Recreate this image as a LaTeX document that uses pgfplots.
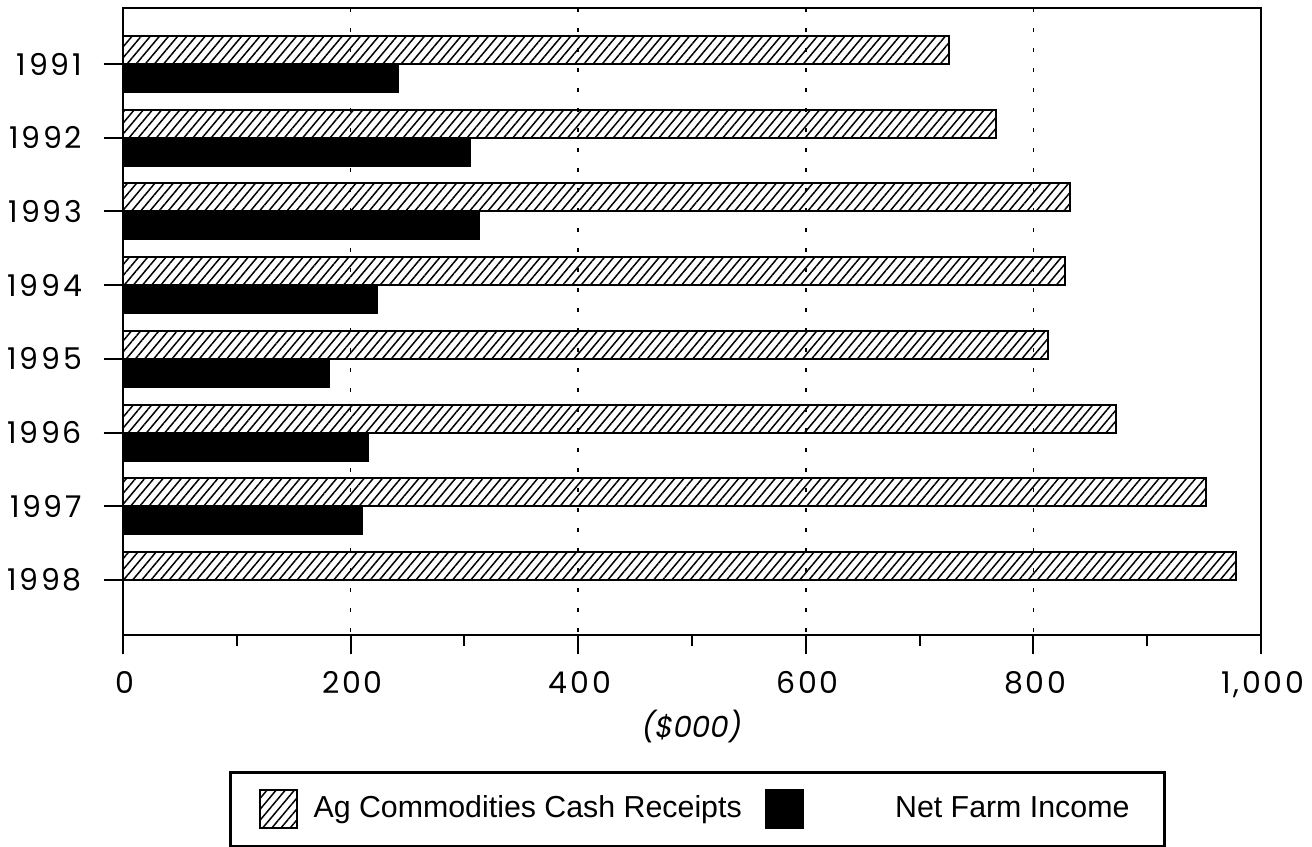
\documentclass[border=0pt]{standalone}
\usepackage{pgfplots}
\pgfplotsset{compat=1.18}
\usetikzlibrary{patterns.meta}
\usepackage{fontspec}
\setmainfont{Liberation Sans}
\newfontfamily\tickfont[LetterSpace=9]{Poppins}
\newfontfamily\labfont{Poppins}
\pgfplotsset{sqlegend/.style={legend image code/.code={\draw[##1, line width=0.6pt] (0pt,-5.6pt) rectangle (11.2pt,5.6pt);}}}
\begin{document}
\begin{tikzpicture}
\begin{axis}[
  name=ax,
  scale only axis,
  width=341.4pt, height=188.1pt,
  xmin=0, xmax=1000,
  ymin=1990.24, ymax=1998.746,
  y dir=reverse,
  axis line style={line width=0.8pt},
  xtick={0,200,400,600,800,1000},
  xticklabels={0,200,400,600,800,{1,000}},
  minor xtick={100,300,500,700,900},
  ytick={1991,1992,1993,1994,1995,1996,1997,1998},
  yticklabels={1991,1992,1993,1994,1995,1996,1997,1998},
  xtick pos=bottom, ytick pos=left,
  tick align=outside,
  major tick length=5.8pt, minor tick length=3.3pt,
  tick style={black, line width=0.6pt},
  xmajorgrids,
  major grid style={black, line width=0.45pt, dash pattern=on 1.2pt off 4.8pt},
  ticklabel style={font=\tickfont\fontsize{9}{10}\selectfont},
  xticklabel style={yshift=-1.5pt, xshift=0.5pt},
  yticklabel style={xshift=-3pt},
  xlabel={\textit{(\$000)}},
  xlabel style={font=\labfont\fontsize{8.8}{10}\selectfont, at={(axis description cs:0.5,0)}, anchor=center, yshift=-27.6pt},
  legend columns=2,
  legend style={draw=black, line width=0.8pt, at={(0.5,0)}, anchor=north, yshift=-40.8pt, xshift=1.6pt,
    font=\fontsize{9.1}{11}\selectfont, inner xsep=8.5pt, inner ysep=5pt,
    /tikz/every odd column/.append style={column sep=2.7pt},
    /tikz/every even column/.append style={column sep=5pt}},
  legend cell align=left,
]
\addplot[xbar, bar width=0.38, bar shift=-0.19, draw=black, line width=0.6pt,
  pattern={Lines[angle=50, distance=2.1pt, line width=0.45pt]}, sqlegend]
  coordinates {(726,1991) (767,1992) (832,1993) (828,1994) (813,1995) (873,1996) (952,1997) (978,1998)};
\addplot[xbar, bar width=0.38, bar shift=0.19, draw=black, fill=black, line width=0.6pt, sqlegend]
  coordinates {(242,1991) (305,1992) (313,1993) (223,1994) (181,1995) (215,1996) (210,1997)};
\legend{Ag Commodities Cash Receipts, \hspace{22.5pt}Net Farm Income\hspace{5pt}}
\end{axis}
\pgfresetboundingbox
\path[use as bounding box] ([xshift=-36.9pt,yshift=190.5pt]ax.south west) rectangle ([xshift=356.7pt,yshift=-63.6pt]ax.south west);
\end{tikzpicture}
\end{document}
